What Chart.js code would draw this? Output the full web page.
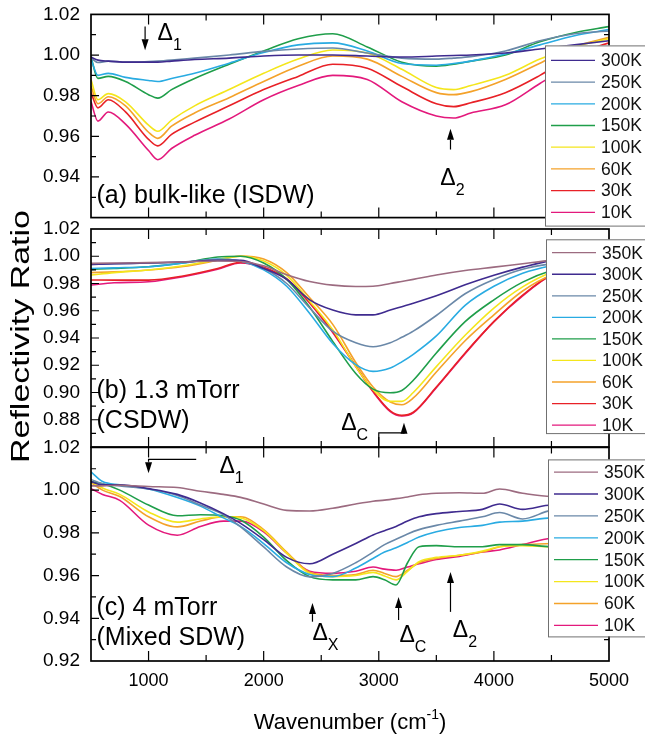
<!DOCTYPE html>
<html>
<head>
<meta charset="utf-8">
<script src="https://cdn.jsdelivr.net/npm/chart.js@4.4.1/dist/chart.umd.min.js"></script>
<style>
  body { margin: 0; background: #fff; }
  #wrap { position: relative; width: 645px; height: 741px; overflow: hidden; }
  canvas { position: absolute; left: 0; }
</style>
</head>
<body>
<div id="wrap">
  <canvas id="panelA" width="645" height="248" style="top:-8px"></canvas>
  <canvas id="panelB" width="645" height="270" style="top:200px"></canvas>
  <canvas id="panelC" width="645" height="316" style="top:425px"></canvas>
</div>
<script>
const FONT = '"Liberation Sans", Arial, Helvetica, sans-serif';

// ---- panel (a) bulk-like (ISDW) ----
const wnA = [500, 560, 650, 800, 1000, 1080, 1200, 1400, 1700, 2000, 2300, 2600, 2900, 3200, 3500, 3650, 3800, 4100, 4400, 4700, 5000];
const tempsA = ['300K', '250K', '200K', '150K', '100K', '60K', '30K', '10K'];
const a300 = [0.999, 0.9975, 0.997, 0.9965, 0.9965, 0.9965, 0.997, 0.9978, 0.9985, 0.9995, 1.0, 1.0, 0.9995, 0.999, 0.9995, 0.9998, 1.0, 1.001, 1.003, 1.005, 1.007];
const a250 = [0.9985, 0.9963, 0.997, 0.9965, 0.9968, 0.997, 0.9975, 0.9985, 1.0, 1.0018, 1.003, 1.0035, 1.001, 0.9985, 0.998, 0.9985, 0.9992, 1.002, 1.007, 1.0105, 1.0118];
const a200 = [0.998, 0.990, 0.991, 0.989, 0.9875, 0.987, 0.9885, 0.991, 0.996, 1.0012, 1.005, 1.006, 1.002, 0.9958, 0.995, 0.9958, 0.997, 1.0005, 1.005, 1.0095, 1.0125];
const a150 = [0.999, 0.9885, 0.9895, 0.987, 0.9805, 0.9788, 0.983, 0.9885, 0.9955, 1.002, 1.008, 1.0105, 1.004, 0.9965, 0.9945, 0.9955, 0.997, 1.0, 1.0065, 1.011, 1.014];
const a100 = [0.988, 0.978, 0.981, 0.977, 0.9655, 0.9625, 0.968, 0.975, 0.983, 0.991, 0.998, 1.0025, 1.001, 0.993, 0.984, 0.983, 0.985, 0.990, 0.998, 1.004, 1.008];
const a60 = [0.9847, 0.976, 0.9795, 0.975, 0.962, 0.959, 0.965, 0.9715, 0.979, 0.987, 0.9945, 0.9995, 0.998, 0.9895, 0.9815, 0.9805, 0.982, 0.988, 0.996, 1.004, 1.0087];
const a30 = [0.9815, 0.974, 0.978, 0.972, 0.9585, 0.9553, 0.961, 0.967, 0.975, 0.983, 0.9895, 0.9955, 0.9935, 0.9845, 0.976, 0.9746, 0.9765, 0.9815, 0.990, 1.0, 1.006];
const a10 = [0.977, 0.9675, 0.972, 0.966, 0.953, 0.9485, 0.954, 0.9605, 0.9685, 0.978, 0.985, 0.990, 0.988, 0.977, 0.970, 0.969, 0.9715, 0.9755, 0.986, 0.996, 1.003];

// ---- panel (b) 1.3 mTorr (CSDW) ----
const wnB = [500, 700, 1000, 1300, 1600, 1800, 2000, 2200, 2400, 2600, 2800, 2950, 3100, 3200, 3300, 3500, 3750, 4000, 4250, 4500, 4750, 5000];
const tempsB = ['350K', '300K', '250K', '200K', '150K', '100K', '60K', '30K', '10K'];
const b350 = [0.9948, 0.995, 0.9953, 0.9958, 0.9965, 0.9962, 0.993, 0.9865, 0.9815, 0.9788, 0.9778, 0.978, 0.980, 0.9815, 0.983, 0.9862, 0.9895, 0.992, 0.9945, 0.997, 0.998, 0.999];
const b300 = [0.994, 0.9945, 0.995, 0.9958, 0.997, 0.997, 0.991, 0.983, 0.968, 0.9605, 0.957, 0.957, 0.9605, 0.963, 0.9655, 0.971, 0.979, 0.986, 0.992, 0.9968, 0.998, 0.999];
const b250 = [0.994, 0.9945, 0.995, 0.9958, 0.9975, 0.9965, 0.991, 0.980, 0.962, 0.945, 0.9365, 0.9336, 0.9365, 0.9405, 0.945, 0.9565, 0.9725, 0.983, 0.9905, 0.9945, 0.997, 0.998];
const b200 = [0.991, 0.9915, 0.9923, 0.995, 0.998, 0.9965, 0.990, 0.978, 0.958, 0.936, 0.9205, 0.9155, 0.918, 0.9225, 0.928, 0.9415, 0.964, 0.978, 0.9875, 0.993, 0.996, 0.997];
const b150 = [0.9904, 0.991, 0.9923, 0.995, 0.9995, 1.0, 0.995, 0.983, 0.9625, 0.9375, 0.914, 0.9025, 0.8998, 0.9015, 0.909, 0.929, 0.952, 0.968, 0.981, 0.9895, 0.994, 0.996];
const b100 = [0.9862, 0.988, 0.9899, 0.993, 0.9975, 1.0, 0.9965, 0.986, 0.967, 0.946, 0.919, 0.902, 0.8935, 0.8935, 0.900, 0.919, 0.942, 0.962, 0.9775, 0.988, 0.993, 0.995];
const b60 = [0.988, 0.9885, 0.9899, 0.9925, 0.997, 1.0002, 0.998, 0.988, 0.9695, 0.950, 0.922, 0.904, 0.893, 0.891, 0.896, 0.915, 0.938, 0.957, 0.9745, 0.9862, 0.992, 0.995];
const b30 = [0.9826, 0.9825, 0.9825, 0.9855, 0.991, 0.9955, 0.992, 0.9835, 0.966, 0.9445, 0.9195, 0.901, 0.8865, 0.8832, 0.8855, 0.904, 0.929, 0.952, 0.9715, 0.9862, 0.992, 0.995];
const b10 = [0.9789, 0.9805, 0.9813, 0.985, 0.9905, 0.995, 0.9915, 0.983, 0.9655, 0.944, 0.919, 0.9005, 0.886, 0.8827, 0.885, 0.9035, 0.9285, 0.952, 0.971, 0.9862, 0.992, 0.995];

// ---- panel (c) 4 mTorr (Mixed SDW) ----
const wnC = [500, 600, 750, 1000, 1250, 1450, 1650, 1800, 2000, 2200, 2400, 2600, 2800, 2950, 3050, 3150, 3250, 3350, 3500, 3700, 3900, 4050, 4250, 4500, 4750, 5000];
const tempsC = ['350K', '300K', '250K', '200K', '150K', '100K', '60K', '10K'];
const c350 = [1.002, 1.002, 1.0023, 1.0017, 1.0012, 0.9995, 0.998, 0.9966, 0.9935, 0.9905, 0.9902, 0.9915, 0.9935, 0.9948, 0.9953, 0.996, 0.9968, 0.9978, 0.9985, 0.9988, 0.9985, 1.0005, 0.9985, 0.997, 0.997, 0.996];
const c300 = [1.004, 1.0025, 1.0025, 1.0007, 0.998, 0.994, 0.989, 0.9844, 0.9768, 0.9685, 0.9655, 0.970, 0.975, 0.979, 0.981, 0.983, 0.9855, 0.9875, 0.989, 0.990, 0.991, 0.9935, 0.991, 0.993, 0.993, 0.993];
const c250 = [1.005, 1.003, 1.002, 1.0005, 0.9975, 0.993, 0.9885, 0.9828, 0.9734, 0.964, 0.9594, 0.961, 0.966, 0.971, 0.9745, 0.977, 0.9795, 0.9815, 0.9835, 0.9855, 0.9875, 0.9895, 0.9865, 0.9905, 0.991, 0.990];
const c200 = [1.0085, 1.004, 1.0025, 1.0005, 0.9965, 0.9925, 0.987, 0.983, 0.975, 0.966, 0.9605, 0.9595, 0.9635, 0.968, 0.971, 0.973, 0.9755, 0.978, 0.9805, 0.9825, 0.9835, 0.985, 0.9855, 0.987, 0.987, 0.987];
const c150 = [1.004, 1.003, 1.0, 0.993, 0.988, 0.9885, 0.988, 0.986, 0.978, 0.967, 0.9595, 0.958, 0.958, 0.9595, 0.958, 0.9556, 0.966, 0.9735, 0.974, 0.9735, 0.9735, 0.9745, 0.9745, 0.9735, 0.974, 0.975];
const c100 = [1.004, 1.001, 0.998, 0.9898, 0.985, 0.9865, 0.9875, 0.987, 0.981, 0.9705, 0.961, 0.9595, 0.960, 0.9615, 0.9598, 0.958, 0.962, 0.9665, 0.9685, 0.9695, 0.9715, 0.9735, 0.974, 0.9735, 0.975, 0.976];
const c60 = [1.0035, 1.0, 0.997, 0.9875, 0.9828, 0.9855, 0.9875, 0.9875, 0.9815, 0.971, 0.9615, 0.960, 0.9605, 0.9625, 0.961, 0.9595, 0.9625, 0.966, 0.968, 0.9695, 0.971, 0.9735, 0.9745, 0.975, 0.976, 0.977];
const c10 = [1.0007, 0.998, 0.9952, 0.9836, 0.9789, 0.983, 0.9855, 0.9855, 0.9805, 0.9705, 0.962, 0.961, 0.962, 0.964, 0.963, 0.9625, 0.964, 0.9655, 0.9675, 0.969, 0.971, 0.972, 0.9745, 0.9775, 0.978, 0.979];

const COLORS = {
  '350K': '#9c6b80', '300K': '#3f2b8f', '250K': '#6a88a8', '200K': '#29abe2',
  '150K': '#1f9e4a', '100K': '#f4e61c', '60K': '#f4a22a', '30K': '#e82127', '10K': '#e3197c'
};

function makeDatasets(wn, temps, series) {
  return temps.map((t, i) => ({
    label: t,
    data: wn.map((w, k) => ({ x: w, y: series[i][k] })),
    borderColor: COLORS[t],
    backgroundColor: COLORS[t],
    borderWidth: 1.6,
    pointRadius: 0,
    cubicInterpolationMode: 'monotone',
    fill: false
  }));
}

function arrow(ctx, x, yTail, yTip) {
  const dir = yTip > yTail ? 1 : -1;
  const hl = 11, hw = 3.5;
  ctx.beginPath();
  ctx.moveTo(x, yTail);
  ctx.lineTo(x, yTip - dir * hl);
  ctx.stroke();
  ctx.beginPath();
  ctx.moveTo(x, yTip);
  ctx.lineTo(x - hw, yTip - dir * hl);
  ctx.lineTo(x + hw, yTip - dir * hl);
  ctx.closePath();
  ctx.fill();
}

const panelDecor = {
  id: 'panelDecor',
  afterDraw(chart, args, o) {
    const ctx = chart.ctx, a = chart.chartArea;
    const xs = chart.scales.x, ys = chart.scales.y;
    const px = v => xs.getPixelForValue(v), py = v => ys.getPixelForValue(v);
    ctx.save();
    ctx.strokeStyle = '#000';
    ctx.fillStyle = '#000';

    // frame + inward ticks
    ctx.lineWidth = 1.7;
    ctx.strokeRect(a.left, a.top, a.right - a.left, a.bottom - a.top);
    ctx.lineWidth = 1.2;
    ctx.beginPath();
    for (let v = 1000; v < 5000; v += 500) {
      const x = px(v), len = v % 1000 === 0 ? 10 : 6;
      ctx.moveTo(x, a.top); ctx.lineTo(x, a.top + len);
      ctx.moveTo(x, a.bottom); ctx.lineTo(x, a.bottom - len);
    }
    const n = Math.round((ys.max - ys.min) / 0.01);
    for (let i = 1; i < n; i++) {
      const y = py(ys.min + i * 0.01), len = i % 2 === 0 ? 8 : 5;
      ctx.moveTo(a.left, y); ctx.lineTo(a.left + len, y);
      ctx.moveTo(a.right, y); ctx.lineTo(a.right - len, y);
    }
    ctx.stroke();

    // panel captions
    ctx.font = '25px ' + FONT;
    ctx.textAlign = 'left';
    ctx.textBaseline = 'alphabetic';
    (o.labels || []).forEach(l => ctx.fillText(l.text, px(l.x), py(l.y)));

    // arrows
    ctx.lineWidth = 1.2;
    (o.paths || []).forEach(p => {
      ctx.beginPath();
      p.forEach((pt, k) => k ? ctx.lineTo(px(pt[0]), py(pt[1])) : ctx.moveTo(px(pt[0]), py(pt[1])));
      ctx.stroke();
    });
    (o.arrows || []).forEach(r => arrow(ctx, px(r.x), py(r.from), py(r.to)));

    // gap labels
    (o.deltas || []).forEach(d => {
      ctx.font = '23px ' + FONT;
      const x = px(d.x), y = py(d.y);
      ctx.fillText('Δ', x, y);
      const w = ctx.measureText('Δ').width;
      ctx.font = '16px ' + FONT;
      ctx.fillText(d.sub, x + w, y + 10);
    });

    // legend
    if (o.legend) {
      const L = o.legend, ds = chart.data.datasets;
      const left = a.right + L.dx, top = a.top + L.top;
      const h = L.first + (ds.length - 1) * L.row + L.bottom;
      ctx.fillStyle = '#fff';
      ctx.fillRect(left, top, 200, h);
      ctx.strokeStyle = '#707070';
      ctx.lineWidth = 1;
      ctx.strokeRect(left + 0.5, top + 0.5, 200, h);
      ctx.font = '17.5px ' + FONT;
      ctx.textBaseline = 'middle';
      ds.forEach((d, i) => {
        const y = top + L.first + i * L.row;
        ctx.strokeStyle = d.borderColor;
        ctx.lineWidth = 1.3;
        ctx.beginPath();
        ctx.moveTo(left + 6, y); ctx.lineTo(left + 50, y);
        ctx.stroke();
        ctx.fillStyle = '#111';
        ctx.fillText(d.label, left + 56, y + 1);
      });
      ctx.textBaseline = 'alphabetic';
    }

    // shared axis titles
    ctx.fillStyle = '#000';
    if (o.yTitle) {
      const txt = 'Reflectivity Ratio';
      ctx.font = '25px ' + FONT;
      const w = ctx.measureText(txt).width;
      ctx.save();
      ctx.translate(28.5, (a.top + a.bottom) / 2 - 1.5);
      ctx.rotate(-Math.PI / 2);
      ctx.scale(253 / w, 1);
      ctx.textAlign = 'center';
      ctx.fillText(txt, 0, 0);
      ctx.restore();
    }
    if (o.xTitle) {
      const main = 'Wavenumber (cm', sup = '-1', end = ')';
      ctx.font = '22px ' + FONT;
      const w1 = ctx.measureText(main).width, w3 = ctx.measureText(end).width;
      ctx.font = '14px ' + FONT;
      const w2 = ctx.measureText(sup).width;
      let x = (a.left + a.right) / 2 - (w1 + w2 + w3) / 2;
      const y = a.bottom + 67.5;
      ctx.font = '22px ' + FONT;
      ctx.fillText(main, x, y);
      ctx.font = '14px ' + FONT;
      ctx.fillText(sup, x + w1, y - 10);
      ctx.font = '22px ' + FONT;
      ctx.fillText(end, x + w1 + w2, y);
    }
    ctx.restore();
  }
};

function makeChart(id, wn, temps, series, cfg) {
  return new Chart(document.getElementById(id), {
    type: 'line',
    data: { datasets: makeDatasets(wn, temps, series) },
    plugins: [panelDecor],
    options: {
      responsive: false,
      animation: false,
      layout: { padding: { top: cfg.padTop, bottom: cfg.padBottom, left: 0, right: 36 } },
      plugins: {
        legend: { display: false },
        tooltip: { enabled: false },
        panelDecor: cfg.decor
      },
      scales: {
        x: {
          type: 'linear', min: 500, max: 5000,
          display: cfg.showX,
          grid: { display: false, drawTicks: false },
          border: { display: false },
          afterFit: s => { if (s.options.display) s.height = 80; },
          ticks: {
            stepSize: 500, autoSkip: false, maxRotation: 0, padding: 9,
            color: '#000', font: { family: FONT, size: 18 },
            callback: v => (Math.round(v) % 1000 === 0 ? String(Math.round(v)) : '')
          }
        },
        y: {
          type: 'linear', min: cfg.yMin, max: cfg.yMax,
          grid: { display: false, drawTicks: false },
          border: { display: false },
          afterFit: s => { s.width = 91; },
          ticks: {
            stepSize: 0.02, padding: 11,
            color: '#000', font: { family: FONT, size: 19 },
            callback: v => (cfg.hideMin && Math.abs(v - cfg.yMin) < 1e-6 ? '' : v.toFixed(2))
          }
        }
      }
    }
  });
}

makeChart('panelA', wnA, tempsA, [a300, a250, a200, a150, a100, a60, a30, a10], {
  padTop: 22, padBottom: 11, showX: false, yMin: 0.92, yMax: 1.02, hideMin: true,
  decor: {
    labels: [{ x: 548, y: 0.9273, text: '(a) bulk-like (ISDW)' }],
    arrows: [{ x: 970, from: 1.014, to: 1.0023 }, { x: 3623, from: 0.9535, to: 0.9637 }],
    deltas: [{ x: 1078, y: 1.0074, sub: '1' }, { x: 3535, y: 0.9358, sub: '2' }],
    legend: { dx: -64, top: 31, first: 15, row: 21.7, bottom: 13.3 }
  }
});

makeChart('panelB', wnB, tempsB, [b350, b300, b250, b200, b150, b100, b60, b30, b10], {
  padTop: 29, padBottom: 23, showX: false, yMin: 0.86, yMax: 1.02, hideMin: true,
  decor: {
    labels: [{ x: 548, y: 0.8958, text: '(b) 1.3 mTorr' }, { x: 548, y: 0.8737, text: '(CSDW)' }],
    paths: [[[3000, 0.86], [3000, 0.8703], [3219, 0.8703]]],
    arrows: [{ x: 3219, from: 0.8703, to: 0.8778 }],
    deltas: [{ x: 2674, y: 0.8725, sub: 'C' }],
    legend: { dx: -63, top: 10.3, first: 13.4, row: 21.55, bottom: 8 },
    yTitle: true
  }
});

makeChart('panelC', wnC, tempsC, [c350, c300, c250, c200, c150, c100, c60, c10], {
  padTop: 22, padBottom: 0, showX: true, yMin: 0.92, yMax: 1.02, hideMin: false,
  decor: {
    labels: [{ x: 548, y: 0.9415, text: '(c) 4 mTorr' }, { x: 548, y: 0.9275, text: '(Mixed SDW)' }],
    paths: [[[1414, 1.0144], [1000, 1.0144], [1000, 1.0135]]],
    arrows: [{ x: 1000, from: 1.0135, to: 1.0079 }, { x: 2424, from: 0.9384, to: 0.9471 },
             { x: 3172, from: 0.9392, to: 0.950 }, { x: 3623, from: 0.943, to: 0.9617 }],
    deltas: [{ x: 1616, y: 1.0079, sub: '1' }, { x: 2424, y: 0.9298, sub: 'X' },
             { x: 3180, y: 0.929, sub: 'C' }, { x: 3643, y: 0.9313, sub: '2' }],
    legend: { dx: -61, top: 12, first: 12.7, row: 21.9, bottom: 11 },
    xTitle: true
  }
});
</script>
</body>
</html>
